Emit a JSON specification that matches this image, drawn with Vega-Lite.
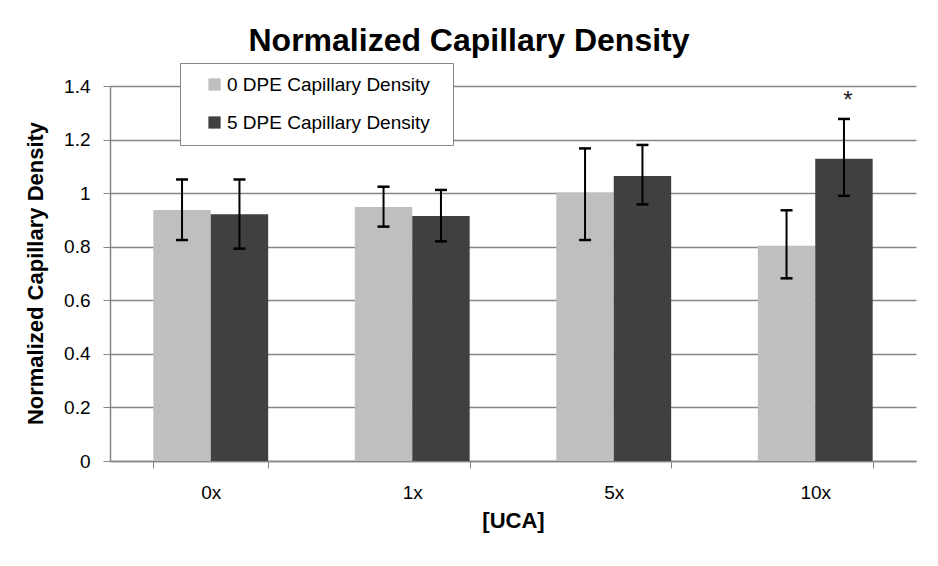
{
  "$schema": "https://vega.github.io/schema/vega-lite/v6.json",
  "width": 806,
  "height": 375,
  "autosize": {"type": "none"},
  "padding": {"left": 110, "top": 86, "right": 22, "bottom": 105},
  "background": "white",
  "title": {
    "text": "Normalized Capillary Density",
    "font": "Liberation Sans",
    "fontSize": 32,
    "fontWeight": "bold",
    "color": "black",
    "anchor": "middle",
    "dx": -44,
    "offset": 5
  },
  "config": {
    "view": {"stroke": null},
    "font": "Liberation Sans"
  },
  "data": {
    "values": [
      {"UCA": "0x", "group": "0 DPE Capillary Density", "value": 0.937, "lower": 0.825, "upper": 1.051, "sig": ""},
      {"UCA": "0x", "group": "5 DPE Capillary Density", "value": 0.921, "lower": 0.793, "upper": 1.051, "sig": ""},
      {"UCA": "1x", "group": "0 DPE Capillary Density", "value": 0.948, "lower": 0.875, "upper": 1.024, "sig": ""},
      {"UCA": "1x", "group": "5 DPE Capillary Density", "value": 0.915, "lower": 0.820, "upper": 1.012, "sig": ""},
      {"UCA": "5x", "group": "0 DPE Capillary Density", "value": 1.002, "lower": 0.825, "upper": 1.167, "sig": ""},
      {"UCA": "5x", "group": "5 DPE Capillary Density", "value": 1.064, "lower": 0.958, "upper": 1.180, "sig": ""},
      {"UCA": "10x", "group": "0 DPE Capillary Density", "value": 0.804, "lower": 0.682, "upper": 0.936, "sig": ""},
      {"UCA": "10x", "group": "5 DPE Capillary Density", "value": 1.128, "lower": 0.990, "upper": 1.277, "sig": "*"}
    ]
  },
  "encoding": {
    "x": {
      "field": "UCA",
      "type": "nominal",
      "sort": ["0x", "1x", "5x", "10x"],
      "scale": {"paddingInner": 0.43, "paddingOuter": 0.215},
      "axis": {
        "title": "[UCA]",
        "titleFont": "Liberation Sans",
        "titleFontSize": 22,
        "titleFontWeight": "bold",
        "titleColor": "black",
        "titlePadding": 8,
        "labelFont": "Liberation Sans",
        "labelFontSize": 19,
        "labelColor": "black",
        "labelAngle": 0,
        "labelPadding": 15,
        "tickBand": "extent",
        "tickSize": 7,
        "tickColor": "#868686",
        "domainColor": "#868686",
        "domainWidth": 1.5,
        "grid": false
      }
    },
    "xOffset": {
      "field": "group",
      "type": "nominal",
      "scale": {"paddingInner": 0, "paddingOuter": 0}
    }
  },
  "layer": [
    {
      "mark": {"type": "bar"},
      "encoding": {
        "y": {
          "field": "value",
          "type": "quantitative",
          "scale": {"domain": [0, 1.4], "nice": false},
          "axis": {
            "title": "Normalized Capillary Density",
            "titleFont": "Liberation Sans",
            "titleFontSize": 22,
            "titleFontWeight": "bold",
            "titleColor": "black",
            "titleAngle": -90,
            "titleBaseline": "middle",
            "titleAlign": "center",
            "titleX": -75,
            "titleY": 187,
            "values": [0, 0.2, 0.4, 0.6, 0.8, 1, 1.2, 1.4],
            "format": "~g",
            "labelFont": "Liberation Sans",
            "labelFontSize": 19,
            "labelColor": "black",
            "labelPadding": 13,
            "tickSize": 7,
            "tickColor": "#868686",
            "domainColor": "#868686",
            "domainWidth": 1.5,
            "gridColor": "#868686",
            "gridWidth": 1.5
          }
        },
        "color": {
          "field": "group",
          "type": "nominal",
          "scale": {
            "domain": ["0 DPE Capillary Density", "5 DPE Capillary Density"],
            "range": ["#bfbfbf", "#404040"]
          },
          "legend": {
            "title": "\u00a0",
            "titleOrient": "right",
            "titlePadding": 11,
            "titleFontSize": 10,
            "orient": "none",
            "legendX": 70,
            "legendY": -23,
            "padding": 12,
            "fillColor": "white",
            "strokeColor": "#868686",
            "symbolType": "square",
            "symbolSize": 150,
            "symbolStrokeWidth": 0,
            "symbolOpacity": 1,
            "symbolOffset": 13,
            "labelFont": "Liberation Sans",
            "labelFontSize": 19,
            "labelColor": "black",
            "labelOffset": 3,
            "labelLimit": 400,
            "rowPadding": 18
          }
        }
      }
    },
    {
      "mark": {"type": "rule", "color": "black", "strokeWidth": 2},
      "encoding": {
        "y": {"field": "lower", "type": "quantitative"},
        "y2": {"field": "upper"}
      }
    },
    {
      "mark": {"type": "tick", "color": "black", "size": 12, "thickness": 2.5, "opacity": 1},
      "encoding": {
        "y": {"field": "upper", "type": "quantitative"}
      }
    },
    {
      "mark": {"type": "tick", "color": "black", "size": 12, "thickness": 2.5, "opacity": 1},
      "encoding": {
        "y": {"field": "lower", "type": "quantitative"}
      }
    },
    {
      "mark": {"type": "text", "font": "Liberation Sans", "fontSize": 24, "color": "#222222", "baseline": "alphabetic", "dx": 4, "dy": -11},
      "encoding": {
        "y": {"field": "upper", "type": "quantitative"},
        "text": {"field": "sig"}
      }
    }
  ]
}
